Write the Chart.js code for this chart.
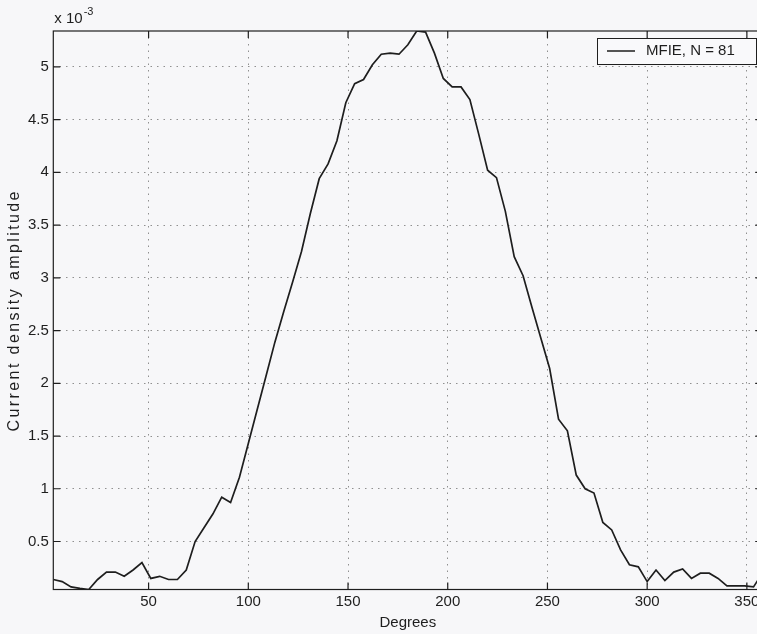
<!DOCTYPE html>
<html>
<head>
<meta charset="utf-8">
<script src="https://cdn.jsdelivr.net/npm/chart.js@4.4.1/dist/chart.umd.min.js"></script>
<style>
   html, body { margin: 0; padding: 0; overflow: hidden; background: #f7f7f9; }
   #wrap { width: 765px; height: 634px; }
</style>
</head>
<body>
<div id="wrap"><canvas id="chart" width="765" height="634"></canvas></div>
<script>
// element centres on the circle, degrees
const degrees = [
   2.22, 6.67, 11.11, 15.56, 20.00, 24.44, 28.89, 33.33, 37.78, 42.22,
   46.67, 51.11, 55.56, 60.00, 64.44, 68.89, 73.33, 77.78, 82.22, 86.67,
   91.11, 95.56, 100.00, 104.44, 108.89, 113.33, 117.78, 122.22, 126.67, 131.11,
   135.56, 140.00, 144.44, 148.89, 153.33, 157.78, 162.22, 166.67, 171.11, 175.56,
   180.00, 184.44, 188.89, 193.33, 197.78, 202.22, 206.67, 211.11, 215.56, 220.00,
   224.44, 228.89, 233.33, 237.78, 242.22, 246.67, 251.11, 255.56, 260.00, 264.44,
   268.89, 273.33, 277.78, 282.22, 286.67, 291.11, 295.56, 300.00, 304.44, 308.89,
   313.33, 317.78, 322.22, 326.67, 331.11, 335.56, 340.00, 344.44, 348.89, 353.33,
   357.78,
]

// current density amplitude, in units of 10^-3
const amplitude = [
   0.14, 0.12, 0.07, 0.055, 0.045, 0.14, 0.21, 0.21, 0.17, 0.23,
   0.30, 0.15, 0.17, 0.14, 0.14, 0.23, 0.50, 0.63, 0.76, 0.92,
   0.87, 1.11, 1.43, 1.75, 2.07, 2.39, 2.68, 2.96, 3.25, 3.61,
   3.94, 4.08, 4.30, 4.66, 4.84, 4.88, 5.02, 5.12, 5.13, 5.12,
   5.21, 5.34, 5.33, 5.13, 4.89, 4.81, 4.81, 4.69, 4.36, 4.02,
   3.95, 3.63, 3.20, 3.02, 2.72, 2.43, 2.14, 1.66, 1.55, 1.13,
   1.00, 0.96, 0.68, 0.61, 0.42, 0.28, 0.26, 0.12, 0.23, 0.13,
   0.21, 0.24, 0.15, 0.20, 0.20, 0.15, 0.08, 0.08, 0.08, 0.07,
   0.20,
]

const xTicks = [ 50, 100, 150, 200, 250, 300, 350 ]
const yTicks = [ 0.5, 1, 1.5, 2, 2.5, 3, 3.5, 4, 4.5, 5 ]

const seriesLabel = 'MFIE, N = 81'
const xTitle = 'Degrees'
const yTitle = 'Current density amplitude'
const expBase = 'x 10'
const expPower = '-3'

const FONT = '"Liberation Sans", Arial, Helvetica, sans-serif'
const INK = '#1e1e1e'
const TICK_LEN = 7

// matlab style frame: box, inward ticks, exponent, y label, legend
const matlabLook = {
   id: 'matlab_look',
   beforeDraw( chart ) {
      const { ctx } = chart
      ctx.save()
      ctx.fillStyle = '#f7f7f9'
      ctx.fillRect( 0, 0, chart.width, chart.height )
      ctx.restore()
   },
   afterDatasetsDraw( chart ) {
      const { ctx, chartArea: a, scales: { x, y } } = chart
      ctx.save()
      ctx.strokeStyle = INK
      ctx.lineWidth = 1.2
      ctx.strokeRect( a.left, a.top, a.right - a.left, a.bottom - a.top )

      ctx.beginPath()
      xTicks.forEach( ( v ) => {
         const px = x.getPixelForValue( v )
         ctx.moveTo( px, a.bottom )
         ctx.lineTo( px, a.bottom - TICK_LEN )
         ctx.moveTo( px, a.top )
         ctx.lineTo( px, a.top + TICK_LEN )
      } )
      yTicks.forEach( ( v ) => {
         const py = y.getPixelForValue( v )
         ctx.moveTo( a.left, py )
         ctx.lineTo( a.left + TICK_LEN, py )
         ctx.moveTo( a.right, py )
         ctx.lineTo( a.right - TICK_LEN, py )
      } )
      ctx.stroke()
      ctx.restore()
   },
   afterDraw( chart ) {
      const { ctx, chartArea: a } = chart
      ctx.save()
      ctx.fillStyle = INK
      ctx.textAlign = 'left'
      ctx.textBaseline = 'alphabetic'

      // exponent above the y axis
      ctx.font = `15px ${FONT}`
      ctx.fillText( expBase, a.left + 1, a.top - 8 )
      const w = ctx.measureText( expBase ).width
      ctx.font = `11px ${FONT}`
      ctx.fillText( expPower, a.left + 1 + w + 1, a.top - 16 )

      // y axis label, spaced out like the scan
      ctx.save()
      ctx.translate( 15, ( a.top + a.bottom ) / 2 )
      ctx.rotate( -Math.PI / 2 )
      ctx.font = `16px ${FONT}`
      ctx.letterSpacing = '2.4px'
      ctx.textAlign = 'center'
      ctx.textBaseline = 'middle'
      ctx.fillText( yTitle, 0, 0 )
      ctx.restore()

      // legend box
      const box = { left: 597, top: 38, right: 756, bottom: 64 }
      ctx.fillStyle = '#f9f9fb'
      ctx.fillRect( box.left, box.top, box.right - box.left, box.bottom - box.top )
      ctx.strokeStyle = INK
      ctx.lineWidth = 1
      ctx.strokeRect( box.left + 0.5, box.top + 0.5, box.right - box.left, box.bottom - box.top )

      const mid = ( box.top + box.bottom ) / 2
      ctx.lineWidth = 1.5
      ctx.beginPath()
      ctx.moveTo( box.left + 10, mid )
      ctx.lineTo( box.left + 38, mid )
      ctx.stroke()

      ctx.fillStyle = INK
      ctx.font = `15px ${FONT}`
      ctx.textBaseline = 'middle'
      ctx.fillText( chart.data.datasets[ 0 ].label, box.left + 49, mid )
      ctx.restore()
   },
}

const gridStyle = {
   color: '#909090',
   lineWidth: 1,
   drawTicks: false,
}

const chart = new Chart( document.getElementById( 'chart' ), {
   type: 'line',
   data: {
      datasets: [ {
         label: seriesLabel,
         data: degrees.map( ( d, i ) => ( { x: d, y: amplitude[ i ] } ) ),
         borderColor: INK,
         borderWidth: 1.7,
         pointRadius: 0,
         tension: 0,
      } ],
   },
   options: {
      responsive: false,
      animation: false,
      layout: {
         padding: { top: 31, right: 2.6, left: 0, bottom: 0 },
      },
      plugins: {
         legend: { display: false },
         tooltip: { enabled: false },
      },
      scales: {
         x: {
            type: 'linear',
            min: degrees[ 0 ],
            max: degrees[ degrees.length - 1 ],
            afterBuildTicks: ( s ) => { s.ticks = xTicks.map( ( v ) => ( { value: v } ) ) },
            afterFit: ( s ) => { s.height = 44.5 },
            grid: gridStyle,
            border: { display: false, dash: [ 1.5, 5 ] },
            ticks: {
               color: INK,
               font: { family: FONT, size: 15 },
               padding: 3,
               maxRotation: 0,
               autoSkip: false,
               callback: ( v ) => String( v ),
            },
            title: {
               display: true,
               text: xTitle,
               color: INK,
               font: { family: FONT, size: 15 },
               padding: { top: 0, bottom: 2.5 },
            },
         },
         y: {
            type: 'linear',
            min: Math.min( ...amplitude ),
            max: Math.max( ...amplitude ),
            afterBuildTicks: ( s ) => { s.ticks = yTicks.map( ( v ) => ( { value: v } ) ) },
            afterFit: ( s ) => { s.width = 53.3 },
            grid: gridStyle,
            border: { display: false, dash: [ 1.5, 5 ] },
            ticks: {
               color: INK,
               font: { family: FONT, size: 15 },
               padding: 4.5,
               autoSkip: false,
               callback: ( v ) => String( v ),
            },
         },
      },
   },
   plugins: [ matlabLook ],
} )
</script>
</body>
</html>
